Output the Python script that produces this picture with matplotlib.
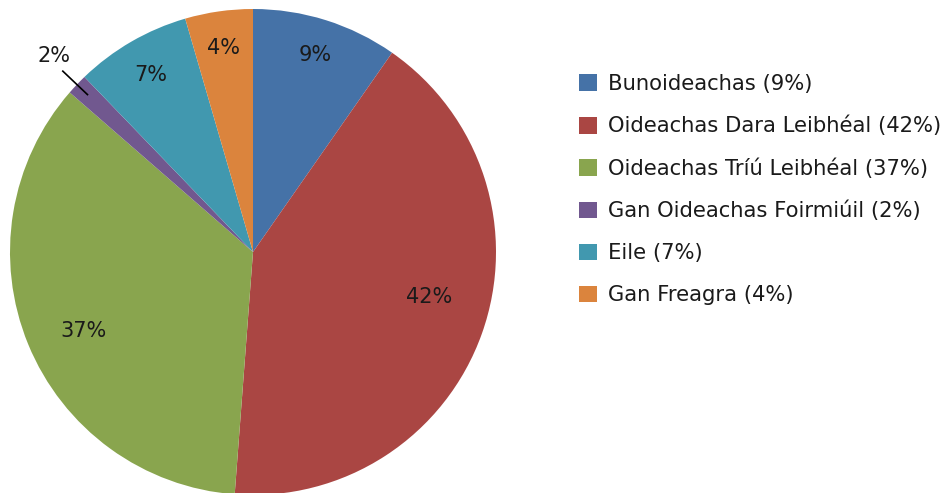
"""Education level pie chart (Irish labels)."""
import numpy as np
import matplotlib
matplotlib.use("Agg")
import matplotlib.pyplot as plt
from matplotlib.patches import Patch

categories = ["Bunoideachas", "Oideachas Dara Leibhéal", "Oideachas Tríú Leibhéal",
              "Gan Oideachas Foirmiúil", "Eile", "Gan Freagra"]
shares = [9.7, 41.5, 35.2, 1.4, 7.7, 4.5]
pct_labels = ["9%", "42%", "37%", "2%", "7%", "4%"]
colors = ["#4572A7", "#AA4643", "#89A54E", "#71588F", "#4198AF", "#DB843D"]

# label placement: fraction of radius and angle nudge (degrees)
label_r = [0.85, 0.75, 0.77, 1.15, 0.84, 0.85]
label_nudge = [0, 5.3, 2.7, -1, 0, 0]

plt.rcParams["font.family"] = ["DejaVu Sans"]

fig = plt.figure(figsize=(9.44, 4.93), dpi=100)
ax = fig.add_axes([10 / 944, -2 / 493, 486 / 944, 486 / 493])
wedges, _ = ax.pie(shares, colors=colors, startangle=90, counterclock=False,
                   radius=1.0, wedgeprops=dict(linewidth=0))
ax.set_xlim(-1, 1)
ax.set_ylim(-1, 1)
ax.set_aspect("equal")
ax.axis("off")

for w, lab, r, nd in zip(wedges, pct_labels, label_r, label_nudge):
    mid = np.deg2rad((w.theta1 + w.theta2) / 2)
    if r > 1:
        # outside label with a leader line
        ax.plot([0.94 * np.cos(mid), 1.08 * np.cos(mid)],
                [0.94 * np.sin(mid), 1.08 * np.sin(mid)],
                color="black", lw=1.2, clip_on=False)
    ang = mid + np.deg2rad(nd)
    ax.text(r * np.cos(ang), r * np.sin(ang), lab,
            ha="center", va="center", fontsize=15, color="#1a1a1a")

handles = [Patch(facecolor=c, edgecolor="none") for c in colors]
legend_labels = [f"{c} ({p})" for c, p in zip(categories, pct_labels)]
fig.legend(handles, legend_labels, loc="upper left",
           bbox_to_anchor=(579 / 944, 1 - 74 / 493), frameon=False,
           fontsize=15.2, handlelength=0.85, handleheight=0.85,
           handletextpad=0.5, labelspacing=1.04, borderpad=0, borderaxespad=0,
           labelcolor="#1a1a1a")

fig.savefig("out.png", dpi=100)
